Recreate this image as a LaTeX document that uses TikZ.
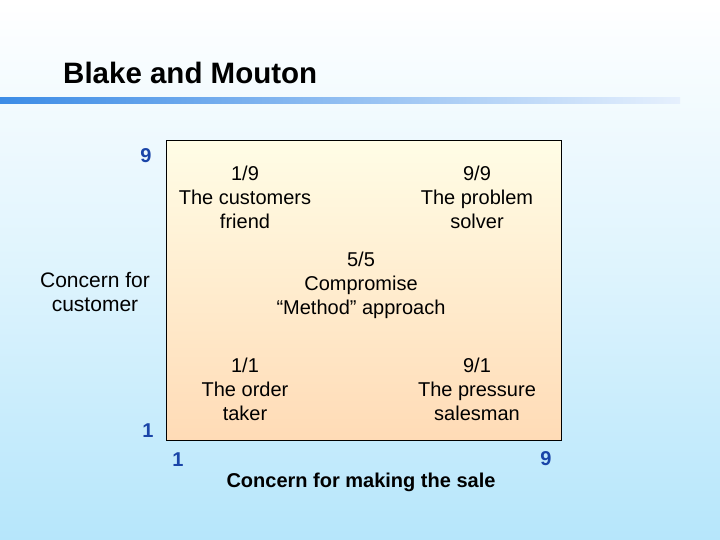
\documentclass[tikz,border=0pt]{standalone}
\usepackage{fontspec}
\setmainfont{Liberation Sans}
\definecolor{bgtop}{HTML}{FFFFFF}
\definecolor{bgbot}{HTML}{B6E6FB}
\definecolor{barL}{HTML}{3C8CE6}
\definecolor{barR}{HTML}{E6F0FD}
\definecolor{boxtop}{HTML}{FFFDE6}
\definecolor{boxbot}{HTML}{FFDBB6}
\definecolor{numblue}{HTML}{1A45A8}
\tikzset{
  lbl/.style={font=\fontsize{20}{24}\selectfont, align=center, text=black, inner sep=0pt},
  axislbl/.style={font=\fontsize{21}{24}\selectfont, align=center, text=black, inner sep=0pt},
  axisttl/.style={font=\bfseries\fontsize{20}{24}\selectfont, text=black, inner sep=0pt},
  num/.style={font=\bfseries\fontsize{20}{24}\selectfont, text=numblue, inner sep=0pt},
}
\begin{document}
\begin{tikzpicture}[x=1pt,y=-1pt]
\useasboundingbox (0,0) rectangle (720,540);
\shade[top color=bgtop, bottom color=bgbot, middle color=bgtop!55!bgbot] (0,0) rectangle (720,540);
\shade[left color=barL, right color=barR] (0,97.5) rectangle (680,104);
\node[anchor=west, font=\bfseries\fontsize{29.5}{34}\selectfont, inner sep=0pt] (title) at (63,73) {Blake and Mouton};
\shade[draw=black, line width=1pt, top color=boxtop, bottom color=boxbot] (166.5,140.5) rectangle (561.5,440.5);
\node[lbl] (q19) at (245,197) {1/9\\The customers\\friend};
\node[lbl] (q99) at (477,197) {9/9\\The problem\\solver};
\node[lbl] (q55) at (361,285) {5/5\\Compromise\\“Method” approach};
\node[lbl] (q11) at (245,389) {1/1\\The order\\taker};
\node[lbl] (q91) at (477,389) {9/1\\The pressure\\salesman};
\node[axislbl] (ylab) at (95,292) {Concern for\\customer};
\node[axisttl] (xlab) at (361,482) {Concern for making the sale};
\node[num] (y9) at (146,156) {9};
\node[num] (y1) at (148,431) {1};
\node[num] (x1) at (178,460) {1};
\node[num] (x9) at (546,459) {9};
\end{tikzpicture}
\end{document}
